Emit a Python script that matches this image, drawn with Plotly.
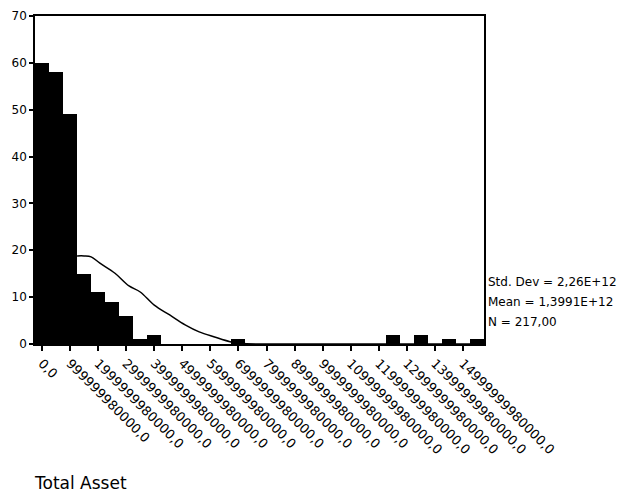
import plotly.graph_objects as go

# Histogram bins (centres, units of 1e12) and counts
bin_centers = [0.0, 0.5, 1.0, 1.5, 2.0, 2.5, 3.0, 3.5, 4.0, 7.0, 12.5, 13.5, 14.5, 15.5]
counts = [60, 58, 49, 15, 11, 9, 6, 1, 2, 1, 2, 2, 1, 1]
bin_width = 0.5

# Normal curve (x in 1e12, y in counts)
curve_x = [1.25, 1.5, 1.75, 2.05, 2.6, 3.1, 3.5, 4.0, 4.55, 5.1, 5.6, 6.15, 6.7, 7.2, 8.0, 15.75]
curve_y = [18.8, 18.8, 18.6, 17.3, 15.1, 12.4, 11.1, 8.3, 6.2, 4.1, 2.6, 1.5, 0.5, 0.1, 0.0, 0.0]

tick_vals = list(range(16))
tick_text = ["0,0", "999999980000,0", "1999999980000,0", "2999999980000,0",
             "3999999980000,0", "4999999980000,0", "5999999980000,0", "6999999980000,0",
             "7999999980000,0", "8999999980000,0", "9999999980000,0", "10999999980000,0",
             "11999999980000,0", "12999999980000,0", "13999999980000,0", "14999999980000,0"]

stats_lines = ["Std. Dev = 2,26E+12", "Mean = 1,3991E+12", "N = 217,00"]
stats_y = [13.2, 8.9, 4.6]

fig = go.Figure()
fig.add_trace(go.Bar(x=bin_centers, y=counts, width=bin_width,
                     marker=dict(color="black", line=dict(width=0)), showlegend=False))
fig.add_trace(go.Scatter(x=curve_x, y=curve_y, mode="lines", line_shape="spline",
                         line=dict(color="black", width=1.5), showlegend=False))

for txt, yy in zip(stats_lines, stats_y):
    fig.add_annotation(text=txt, xref="paper", yref="y", x=1.0, y=yy,
                       xanchor="left", yanchor="middle", showarrow=False, xshift=2,
                       font=dict(family="DejaVu Sans", size=12, color="black"))

fig.add_annotation(text="Total Asset", xref="paper", yref="paper", x=-0.006, y=-0.424,
                   xanchor="left", yanchor="middle", showarrow=False,
                   font=dict(family="DejaVu Sans", size=17, color="black"))

# page body has an 8px margin, so the figure is sized/offset to compensate
fig.update_layout(
    width=620, height=494,
    margin=dict(l=27, r=144, t=8, b=158),
    paper_bgcolor="white", plot_bgcolor="white",
    bargap=0,
    font=dict(family="DejaVu Sans", color="black"),
)
fig.update_xaxes(range=[-0.25, 15.75], tickmode="array", tickvals=tick_vals, ticktext=tick_text,
                 tickangle=45, ticks="outside", ticklen=5, tickcolor="black", tickwidth=1.5,
                 showline=True, linecolor="black", linewidth=1.5, mirror=True, automargin=False,
                 showgrid=False, zeroline=False, tickfont=dict(size=13, family="DejaVu Sans"))
fig.update_yaxes(range=[0, 70], tickmode="array", tickvals=[0, 10, 20, 30, 40, 50, 60, 70],
                 ticks="outside", ticklen=4, tickcolor="black", tickwidth=1.5, automargin=False,
                 showline=True, linecolor="black", linewidth=1.5, mirror=True,
                 showgrid=False, zeroline=False, tickfont=dict(size=12, family="DejaVu Sans"))

fig.write_html("out.html")
